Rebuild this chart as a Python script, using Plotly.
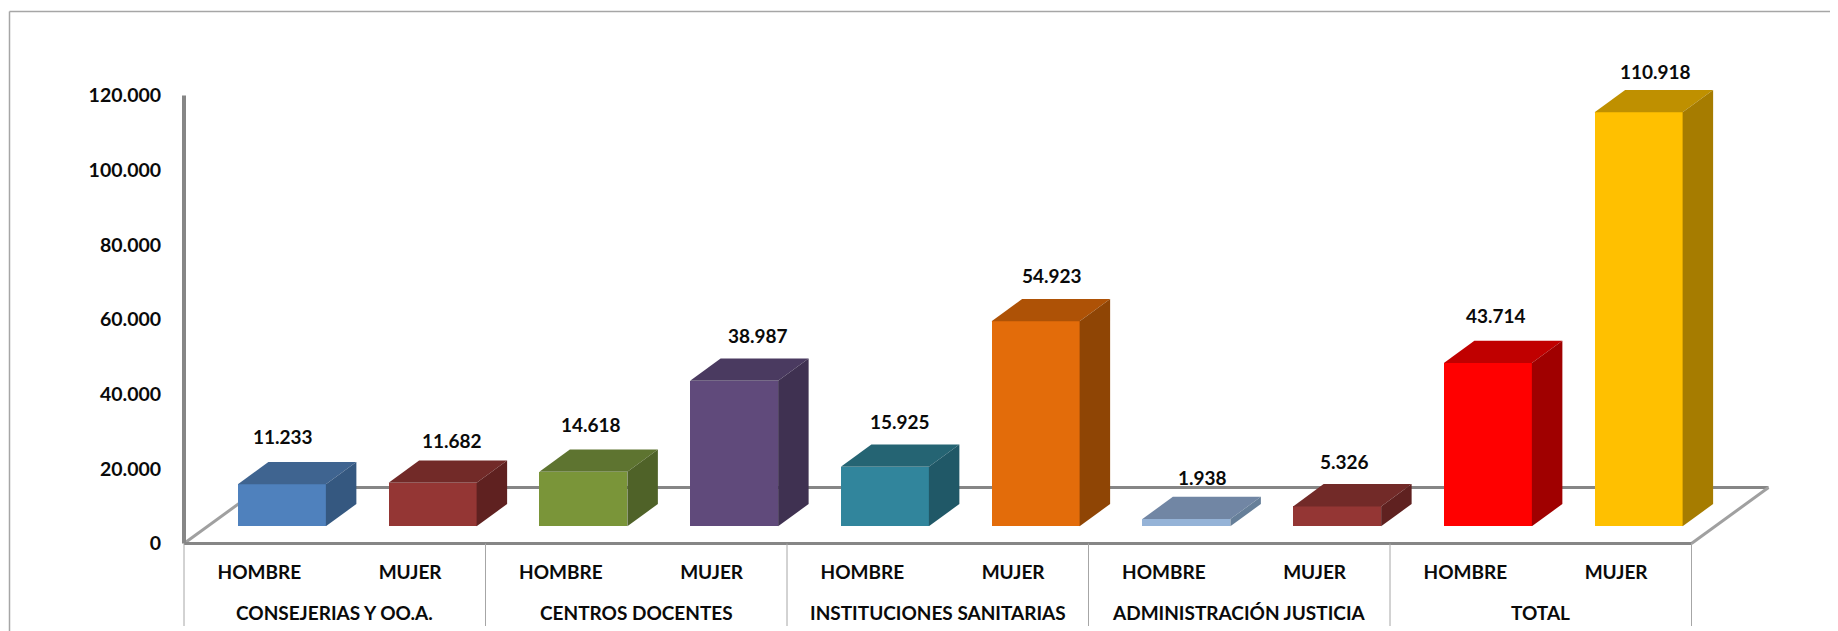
import plotly.graph_objects as go

# ---- data ----
groups = ["CONSEJERIAS Y OO.A.", "CENTROS DOCENTES", "INSTITUCIONES SANITARIAS",
          "ADMINISTRACIÓN JUSTICIA", "TOTAL"]
bar_labels = ["HOMBRE", "MUJER"] * 5
values = [11233, 11682, 14618, 38987, 15925, 54923, 1938, 5326, 43714, 110918]
value_text = ["11.233", "11.682", "14.618", "38.987", "15.925", "54.923", "1.938", "5.326", "43.714", "110.918"]
y_ticks = [0, 20000, 40000, 60000, 80000, 100000, 120000]
y_tick_text = ["0", "20.000", "40.000", "60.000", "80.000", "100.000", "120.000"]

# ---- styles ----
front = ["#4F81BD", "#943634", "#7A9539", "#604A7B", "#31859C", "#E36C0A", "#95B3D7", "#943634", "#FF0000", "#FFC000"]
top = ["#3F6490", "#722A28", "#5E7430", "#4A3A60", "#256473", "#AE5206", "#7186A4", "#722A28", "#C00000", "#BF9000"]
side = ["#355880", "#5F2120", "#4F6228", "#3F3151", "#205867", "#8F4505", "#667F99", "#5F2120", "#A00000", "#A67C00"]
label_dx = [1, 19, 8, 24, 15.5, 16.5, 16, 7.5, 8, 16.5]
label_dy = [47.5, 42.5, 47, 45.5, 45, 45.5, 42, 45, 47.5, 40.5]

PAGE = 8                        # the page body's own margin
W, H = 1838 - PAGE, 631 - PAGE
X0, SLOT = 184 - PAGE, 150.75   # pixel of axis origin, pixels per category slot
Y0, PX_PER_UNIT = 543.5 - PAGE, 448 / 120000
PAD = 6                         # room left of the axis so its thick line is not cut
N = len(values)
yr = (-(H - Y0) / PX_PER_UNIT, Y0 / PX_PER_UNIT)

def dxs(px):
    return px / SLOT

def dyv(px):
    return px / PX_PER_UNIT

base = dyv(17.2)
bar_off = dxs(22.5)
bar_w = dxs(88)
dep_x, dep_y = dxs(30.5), dyv(22.3)
floor_x, floor_y = dxs(77), dyv(56)
GRAY = "#868686"
FONT = dict(family="Lato", size=19, color="#0a0a0a", weight=700)
TICK_FONT = dict(family="Lato", size=19.5, color="#0a0a0a", weight=700)

fig = go.Figure()
centers = [i + 0.5 + bar_off for i in range(N)]

fig.add_trace(go.Bar(x=centers, y=values, base=[base] * N, width=bar_w,
                     marker=dict(color=front, line=dict(width=0)), showlegend=False))

for i, v in enumerate(values):
    l, r = centers[i] - bar_w / 2, centers[i] + bar_w / 2
    b, t = base, base + v
    fig.add_trace(go.Scatter(x=[l, r, r + dep_x, l + dep_x, l], y=[t, t, t + dep_y, t + dep_y, t],
                             mode="lines", fill="toself", fillcolor=top[i], line=dict(width=0),
                             showlegend=False, hoverinfo="skip"))
    fig.add_trace(go.Scatter(x=[r, r + dep_x, r + dep_x, r, r], y=[b, b + dep_y, t + dep_y, t, b],
                             mode="lines", fill="toself", fillcolor=side[i], line=dict(width=0),
                             showlegend=False, hoverinfo="skip"))

# floor and axis lines
shapes = [
    dict(type="line", x0=floor_x, x1=10 + floor_x, y0=floor_y, y1=floor_y, layer="below", line=dict(color=GRAY, width=3)),
    dict(type="line", x0=0, x1=floor_x, y0=0, y1=floor_y, layer="below", line=dict(color="#A0A0A0", width=3)),
    dict(type="line", x0=10, x1=10 + floor_x, y0=0, y1=floor_y, layer="below", line=dict(color="#A0A0A0", width=3)),
    dict(type="line", x0=0, x1=10, y0=0, y1=0, line=dict(color=GRAY, width=3)),
    dict(type="line", x0=0, x1=0, y0=0, y1=120000, line=dict(color=GRAY, width=4)),
]
# group separators
for k in range(len(groups) + 1):
    shapes.append(dict(type="line", x0=2 * k, x1=2 * k, y0=0, y1=-dyv(82.5), line=dict(color="#A6A6A6", width=1)))
# outer frame (left and top only)
fl = (9.5 - PAGE - (X0 - PAD)) / (W - (X0 - PAD))
ft = 1 - (11.5 - PAGE) / H
shapes.append(dict(type="line", xref="paper", yref="paper", x0=fl, x1=fl, y0=0, y1=ft, line=dict(color="#A6A6A6", width=1.5)))
shapes.append(dict(type="line", xref="paper", yref="paper", x0=fl, x1=1, y0=ft, y1=ft, line=dict(color="#A6A6A6", width=1.5)))

annotations = []
for i, v in enumerate(values):
    annotations.append(dict(x=centers[i], y=base + v, text=value_text[i], showarrow=False, xref="x", yref="y",
                            xshift=label_dx[i], yshift=label_dy[i], xanchor="center", yanchor="middle", font=FONT))
for k, g in enumerate(groups):
    annotations.append(dict(x=2 * k + 1, y=-dyv(68.5), text=g, showarrow=False, xref="x", yref="y",
                            xanchor="center", yanchor="middle", font=FONT))

fig.update_layout(
    width=W, height=H, autosize=False,
    margin=dict(l=X0 - PAD, r=0, t=0, b=0, pad=0),
    paper_bgcolor="white", plot_bgcolor="white",
    showlegend=False, bargap=0, shapes=shapes, annotations=annotations,
    xaxis=dict(range=[-PAD / SLOT, (W - X0) / SLOT], anchor="free", position=(H - Y0) / H,
               tickmode="array", tickvals=[i + 0.5 for i in range(N)], ticktext=bar_labels,
               showgrid=False, zeroline=False, showline=False, ticks="outside", ticklen=12,
               tickcolor="rgba(0,0,0,0)", tickfont=FONT),
    yaxis=dict(range=list(yr), anchor="free", position=0,
               tickmode="array", tickvals=y_ticks, ticktext=y_tick_text,
               showgrid=False, zeroline=False, showline=False, ticks="outside", ticklen=13,
               tickcolor="rgba(0,0,0,0)", tickfont=TICK_FONT),
)

fig.write_html("out.html")
